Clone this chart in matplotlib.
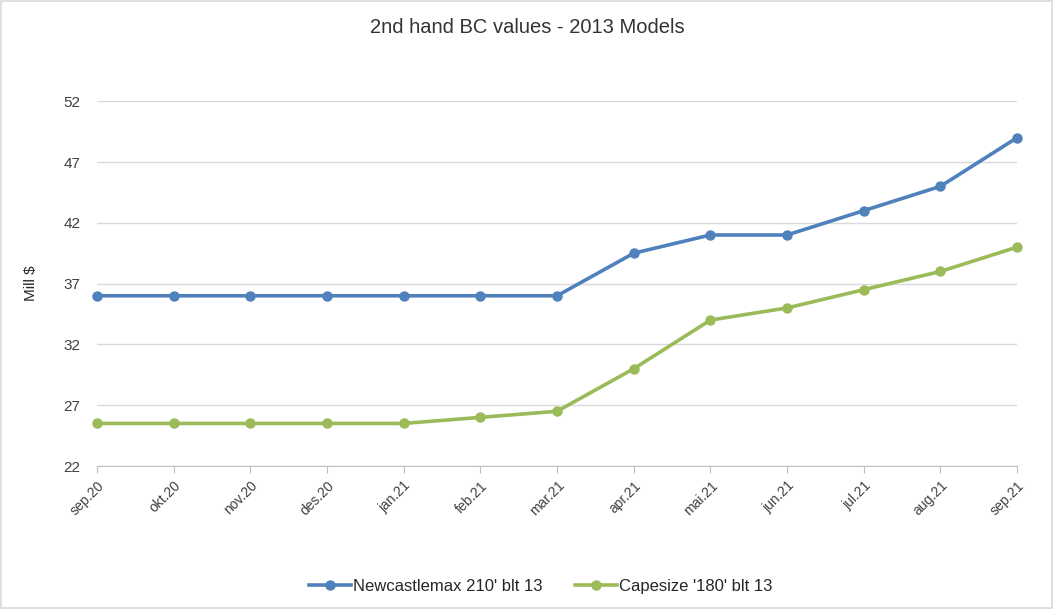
import matplotlib
matplotlib.use("Agg")
import matplotlib.pyplot as plt
from matplotlib.patches import Rectangle

plt.rcParams['font.family'] = ['Liberation Sans', 'DejaVu Sans']

# data
months = ["sep.20", "okt.20", "nov.20", "des.20", "jan.21", "feb.21", "mar.21",
          "apr.21", "mai.21", "jun.21", "jul.21", "aug.21", "sep.21"]
newcastlemax = [36, 36, 36, 36, 36, 36, 36, 39.5, 41, 41, 43, 45, 49]
capesize = [25.5, 25.5, 25.5, 25.5, 25.5, 26, 26.5, 30, 34, 35, 36.5, 38, 40]
yticks = [22, 27, 32, 37, 42, 47, 52]

blue = "#4f81bd"
green = "#9bbb59"

fig = plt.figure(figsize=(10.54, 6.09), dpi=100)
fig.patches.append(Rectangle((0.001, 0.002), 0.997, 0.996, transform=fig.transFigure,
                             fill=False, edgecolor="#d9d9d9", linewidth=1.2))
ax = fig.add_axes([0.092, 0.2348, 0.873, 0.599])

x = list(range(len(months)))
ax.plot(x, newcastlemax, color=blue, lw=2.6, marker="o", ms=6.5,
        label="Newcastlemax 210' blt 13", zorder=3, clip_on=False)
ax.plot(x, capesize, color=green, lw=2.6, marker="o", ms=6.5,
        label="Capesize '180' blt 13", zorder=3, clip_on=False)

ax.set_xlim(0, 12)
ax.set_ylim(22, 52)
ax.set_yticks(yticks)
ax.set_xticks(x)
ax.set_xticklabels(months, rotation=45, ha="right", rotation_mode="anchor",
                   fontsize=10, color="#404040")
ax.tick_params(axis="y", length=0, pad=12, labelsize=11, labelcolor="#404040")
ax.tick_params(axis="x", length=5, color="#bfbfbf", pad=4)
ax.grid(axis="y", color="#d9d9d9", lw=1)
for s in ["top", "right", "left"]:
    ax.spines[s].set_visible(False)
ax.spines["bottom"].set_color("#bfbfbf")
ax.set_axisbelow(True)

ax.set_ylabel("Mill $", fontsize=11, color="#262626", labelpad=18)
fig.suptitle("2nd hand BC values - 2013 Models", y=0.97, fontsize=14.5, color="#333333")

fig.legend(loc="center", bbox_to_anchor=(0.513, 0.037), ncol=2, frameon=False,
           fontsize=12, handlelength=2.5, handletextpad=0.1, columnspacing=2.0,
           labelcolor="#262626")

fig.savefig("out.png", dpi=100)
